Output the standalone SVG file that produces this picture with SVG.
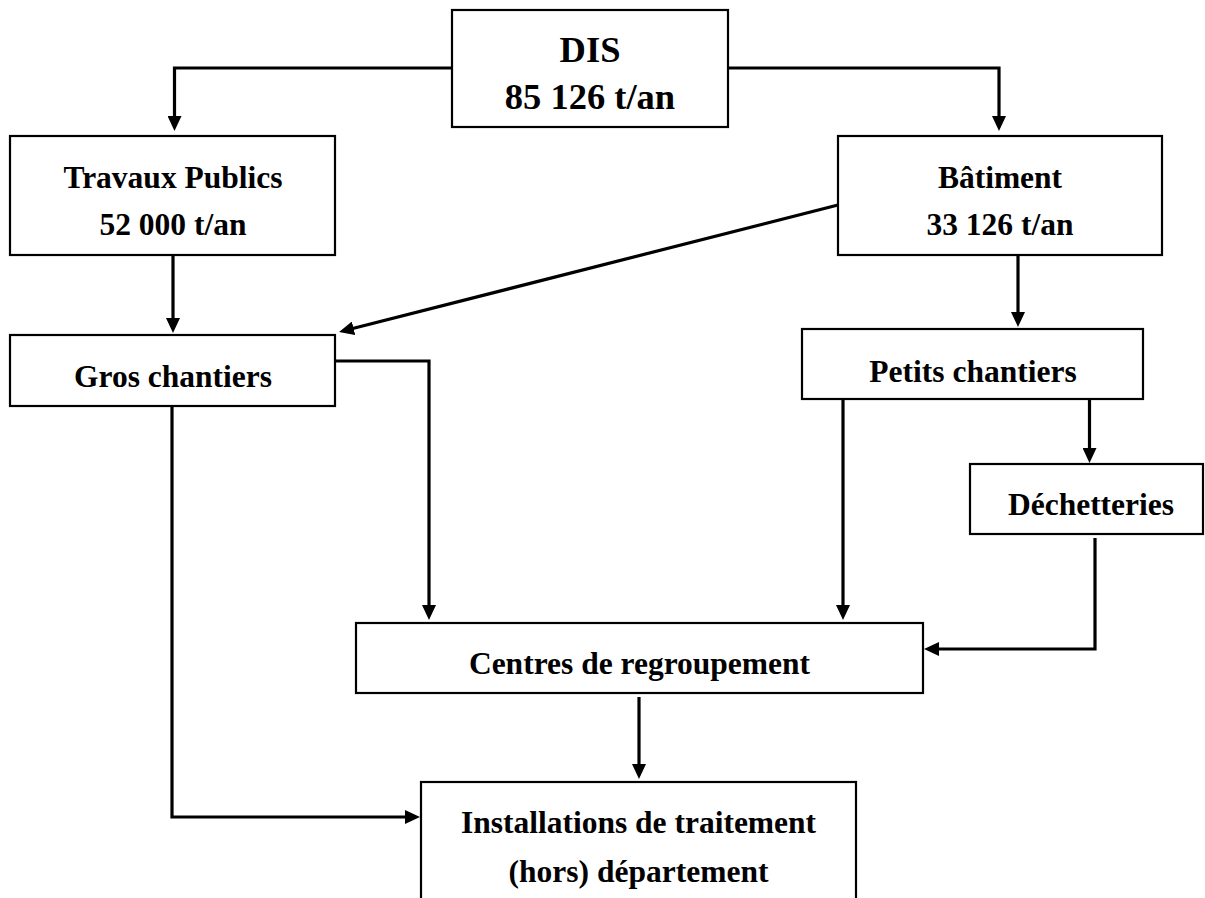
<svg xmlns="http://www.w3.org/2000/svg" width="1205" height="898" viewBox="0 0 1205 898">
<defs>
<style>
.box{fill:#fff;stroke:#000;stroke-width:2.2}
.t{font-family:"Liberation Serif","Times New Roman",serif;font-weight:bold;font-size:31.5px;text-anchor:middle;fill:#000}
.big{font-size:36.5px}
.c{fill:none;stroke:#000;stroke-width:3.2;stroke-linecap:butt;stroke-linejoin:miter}
</style>
<marker id="ah" viewBox="0 0 15 14" markerWidth="15" markerHeight="14" refX="4" refY="7" markerUnits="userSpaceOnUse" orient="auto">
<path d="M0,0 L15,7 L0,14 z" fill="#000"/>
</marker>
</defs>
<rect width="1205" height="898" fill="#fff"/>
<g id="connectors">
<path class="c" marker-end="url(#ah)" d="M452,68 H174.5 V120"/>
<path class="c" marker-end="url(#ah)" d="M728.5,68 H999 V120"/>
<path class="c" marker-end="url(#ah)" d="M173,256 V322"/>
<path class="c" marker-end="url(#ah)" d="M838,205 L349.7,329.3"/>
<path class="c" marker-end="url(#ah)" d="M1018,255 V316"/>
<path class="c" marker-end="url(#ah)" d="M335,361 H429 V609"/>
<path class="c" marker-end="url(#ah)" d="M172,406 V817 H409"/>
<path class="c" marker-end="url(#ah)" d="M843,399 V609"/>
<path class="c" marker-end="url(#ah)" d="M1089.5,393 V452"/>
<path class="c" marker-end="url(#ah)" d="M1095,538 V649 H935"/>
<path class="c" marker-end="url(#ah)" d="M639,697 V768"/>
</g>
<g id="dis">
<rect class="box" x="452" y="10" width="276" height="117"/>
<text class="t big" x="590" y="62">DIS</text>
<text class="t big" x="590" y="109">85 126 t/an</text>
</g>
<g id="travaux-publics">
<rect class="box" x="10" y="136" width="325" height="119"/>
<text class="t" x="173" y="188">Travaux Publics</text>
<text class="t" x="173" y="235">52 000 t/an</text>
</g>
<g id="batiment">
<rect class="box" x="838" y="136" width="324" height="119"/>
<text class="t" x="1000" y="188">Bâtiment</text>
<text class="t" x="1000" y="235">33 126 t/an</text>
</g>
<g id="gros-chantiers">
<rect class="box" x="10" y="335" width="325" height="71"/>
<text class="t" x="173" y="387">Gros chantiers</text>
</g>
<g id="petits-chantiers">
<rect class="box" x="802" y="329" width="341" height="70"/>
<text class="t" x="973" y="382">Petits chantiers</text>
</g>
<g id="dechetteries">
<rect class="box" x="970" y="464" width="233" height="70"/>
<text class="t" x="1091" y="515">Déchetteries</text>
</g>
<g id="centres">
<rect class="box" x="356" y="623" width="567" height="70"/>
<text class="t" x="639.5" y="674">Centres de regroupement</text>
</g>
<g id="installations">
<rect class="box" x="421" y="782" width="435" height="130"/>
<text class="t" x="638.5" y="833">Installations de traitement</text>
<text class="t" x="638.5" y="882">(hors) département</text>
</g>
</svg>
